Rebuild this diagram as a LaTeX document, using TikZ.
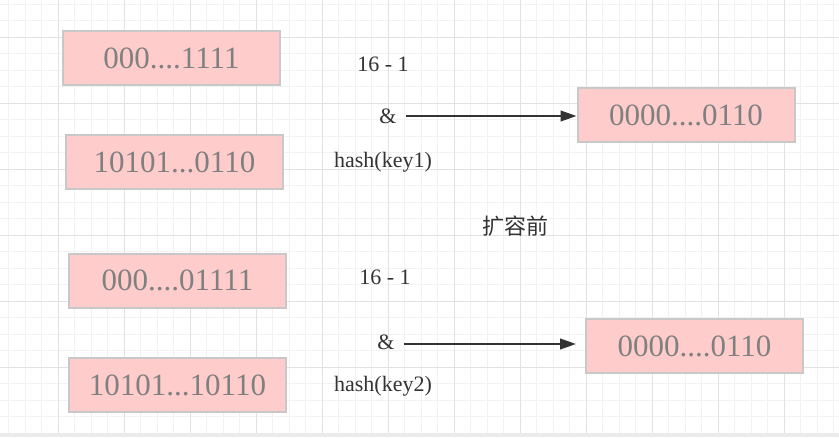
\documentclass[tikz,border=0pt]{standalone}
\usepackage{fontspec}
\setmainfont{Liberation Serif}
\newfontfamily\cjk{Noto Sans CJK SC}
\usetikzlibrary{arrows.meta}

\definecolor{boxfill}{HTML}{FFCCCC}
\definecolor{boxline}{HTML}{C8C8C8}
\definecolor{boxtext}{HTML}{808080}
\definecolor{ink}{HTML}{333333}
\definecolor{gridminor}{HTML}{F2F2F2}
\definecolor{gridmajor}{HTML}{E2E2E2}

\tikzset{
  bitbox/.style={draw=boxline, fill=boxfill, line width=1.5pt, text=boxtext,
    minimum width=162.75pt, minimum height=40.5pt, inner sep=0pt,
    font=\fontsize{23.25}{25}\selectfont},
  opnote/.style={text=ink, inner sep=0pt, font=\fontsize{16.5}{18}\selectfont},
  andarrow/.style={draw=ink, line width=1.5pt, -{Triangle[length=12pt,width=8pt]}}
}

\begin{document}
\begin{tikzpicture}[x=0.75pt, y=-0.75pt]

\useasboundingbox (0,0) rectangle (839,437);

% grid paper
\foreach \k in {0,...,50} {
  \draw[gridminor, line width=0.75pt] (8.5+16.5*\k,0)--(8.5+16.5*\k,433);
}
\foreach \k in {0,...,26} {
  \draw[gridminor, line width=0.75pt] (0,4+16.5*\k)--(839,4+16.5*\k);
}
\foreach \k in {0,...,11} {
  \draw[gridmajor, line width=0.75pt] (58+66*\k,0)--(58+66*\k,433);
}
\foreach \k in {0,...,6} {
  \draw[gridmajor, line width=0.75pt] (0,37+66*\k)--(839,37+66*\k);
}
\fill[gridmajor!70] (0,433) rectangle (839,437);

% before resize, 16 buckets
\node[bitbox] (mask1) at (171.5,58) {000....1111};
\node[bitbox] (hash1) at (174.5,162) {10101...0110};
\node[bitbox] (res1) at (686,115) {0000....0110};

\node[opnote] (minus1) at (383,64) {16 - 1};
\node[opnote] (amp1) at (388,116) {\&};
\node[opnote] (key1) at (383,162) {hash(key1)};

\draw[andarrow] ([xshift=7pt]amp1.east) -- (res1.west |- amp1.east);

\node[opnote, font=\cjk\fontsize{16.5}{18}\selectfont] (title) at (515,226) {扩容前};

% second group
\node[bitbox] (mask2) at (177.5,280.5) {000....01111};
\node[bitbox] (hash2) at (177.5,385) {10101...10110};
\node[bitbox] (res2) at (694.5,346) {0000....0110};

\node[opnote] (minus2) at (385,277) {16 - 1};
\node[opnote] (amp2) at (386,342) {\&};
\node[opnote] (key2) at (383,386) {hash(key2)};

\draw[andarrow, shorten >=6.75pt] ([xshift=7pt,yshift=-1.5pt]amp2.east) -- ([yshift=-1.5pt]res2.west |- amp2.east);

\end{tikzpicture}
\end{document}
